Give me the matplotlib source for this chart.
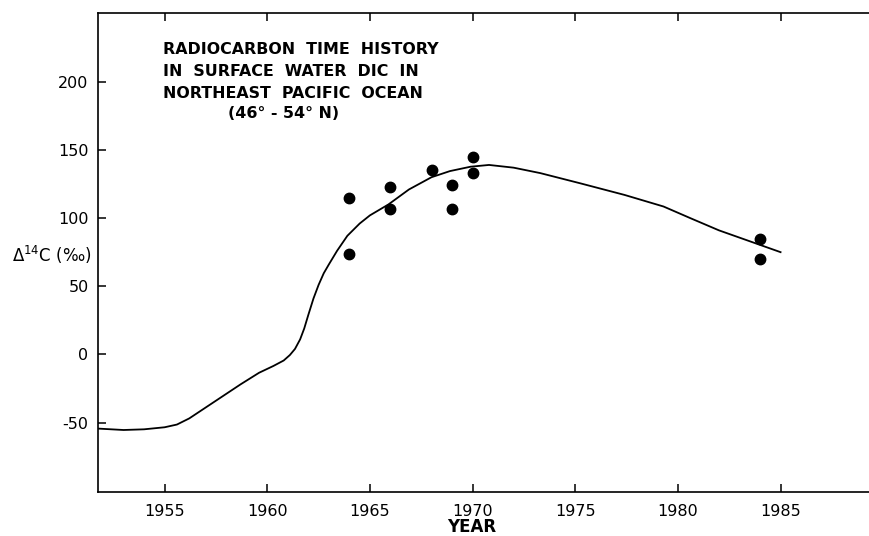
import matplotlib
matplotlib.use('Agg')
import matplotlib.pyplot as plt

# smoothed time history curve (year, delta 14C permil)
curve_year = [1951.8, 1953.0, 1954.0, 1955.0, 1955.6, 1956.2, 1957.0, 1957.8,
              1958.7, 1959.6, 1960.3, 1960.8, 1961.1, 1961.35, 1961.6, 1961.8, 1962.0,
              1962.25, 1962.5, 1962.75, 1963.0, 1963.4, 1963.9, 1964.5, 1965.0,
              1965.9, 1966.9, 1968.0, 1968.9, 1969.9, 1970.8, 1972.0, 1973.3,
              1975.25, 1977.4, 1979.3, 1980.6, 1982.0, 1983.5, 1985.0]
curve_d14c = [-54.5, -55.5, -55.0, -53.5, -51.5, -47.0, -39.0, -31.0,
              -22.0, -13.5, -8.5, -4.5, -0.5, 4.0, 11.0, 19.0, 29.0,
              41.0, 51.0, 59.5, 66.0, 76.0, 87.0, 96.0, 102.0,
              110.0, 121.0, 130.0, 134.5, 137.7, 139.0, 137.0, 133.0,
              125.5, 117.0, 108.5, 100.0, 91.0, 83.0, 75.0]

# measured samples
obs_year = [1964, 1964, 1966, 1966, 1968, 1969, 1969, 1970, 1970, 1984, 1984]
obs_d14c = [115, 73.5, 123, 107, 135, 124.5, 107, 145, 133, 84.5, 70]

xticks = [1955, 1960, 1965, 1970, 1975, 1980, 1985]
yticks = [-50, 0, 50, 100, 150, 200]

title_lines = ["RADIOCARBON  TIME  HISTORY",
               "IN  SURFACE  WATER  DIC  IN",
               "NORTHEAST  PACIFIC  OCEAN",
               "(46\u00b0 - 54\u00b0 N)"]

W, H = 869, 536
fig = plt.figure(figsize=(W / 100, H / 100), dpi=100)
ax = fig.add_axes([98.3 / W, 1 - 492 / H, 1 - 98.3 / W + 0.001, (492 - 13) / H])

ax.plot(curve_year, curve_d14c, color='black', lw=1.3)
ax.plot(obs_year, obs_d14c, 'o', color='black', ms=7.5)

ax.set_xlim(1951.77, 1989.35)
ax.set_ylim(-101, 250.5)
ax.set_xticks(xticks)
ax.set_yticks(yticks)
ax.set_yticklabels([str(v) for v in yticks])
ax.tick_params(direction='in', length=6, width=1.1, labelsize=11.5, top=True, pad=7)
ax.tick_params(axis='x', pad=9)
ax.spines['right'].set_visible(False)
for s in ['left', 'top', 'bottom']:
    ax.spines[s].set_linewidth(1.2)

# title block
xs = [163, 163, 163, 228]
ys = [49.5, 71.5, 93, 114]
for t, px, py in zip(title_lines, xs, ys):
    fig.text(px / W, 1 - py / H, t, ha='left', va='center', fontsize=11.4, fontweight='bold')

fig.text(12 / W, 1 - 255 / H, r'$\Delta^{14}$C (‰)', ha='left', va='center', fontsize=12)
fig.text(471.5 / W, 1 - 527 / H, 'YEAR', ha='center', va='center', fontsize=12, fontweight='bold')

fig.savefig('out.png', dpi=100)
